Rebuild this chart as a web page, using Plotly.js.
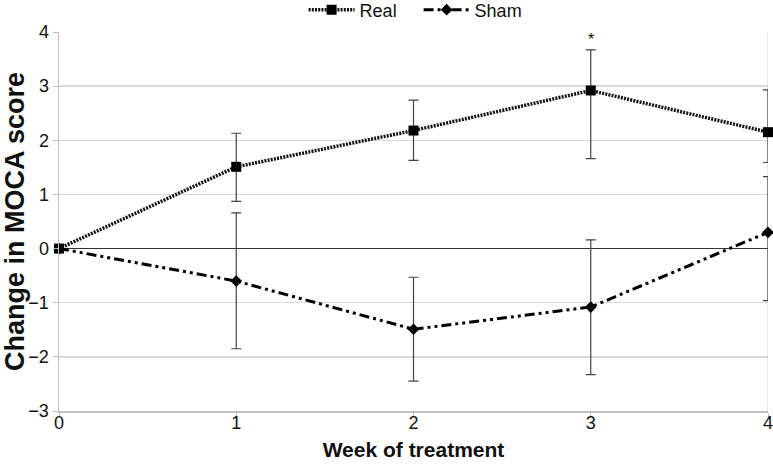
<!DOCTYPE html>
<html>
<head>
<meta charset="utf-8">
<script src="https://cdn.plot.ly/plotly-3.0.1.min.js"></script>
<style>html,body{margin:0;padding:0;background:#fff;}#chart{width:773px;height:465px;}</style>
</head>
<body>
<div id="chart"></div>
<script>
const weeks = [0, 1, 2, 3, 4];
const realMean = [0, 1.51, 2.18, 2.92, 2.15];
const realErrPlus = [0, 0.62, 0.56, 0.75, 0.78];
const realErrMinus = [0, 0.64, 0.55, 1.26, 0.56];
const shamMean = [0, -0.60, -1.49, -1.08, 0.30];
const shamErrPlus = [0, 1.26, 0.96, 1.24, 1.03];
const shamErrMinus = [0, 1.25, 0.96, 1.25, 1.26];
const yTicks = [-3, -2, -1, 0, 1, 2, 3, 4];
const xTicks = [0, 1, 2, 3, 4];

const font = "Liberation Sans, Arial, sans-serif";

const traces = [
  {
    x: weeks, y: realMean, name: 'Real', type: 'scatter', mode: 'lines+markers',
    line: {color: '#111', width: 3.5, dash: '2px,1.2px'},
    marker: {symbol: 'square', size: 10, color: '#000'},
    error_y: {type: 'data', symmetric: false, array: realErrPlus, arrayminus: realErrMinus,
              color: '#444', thickness: 1.2, width: 5},
    cliponaxis: false
  },
  {
    x: weeks, y: shamMean, name: 'Sham', type: 'scatter', mode: 'lines+markers',
    line: {color: '#000', width: 3, dash: '10px,4px,3px,4px,3px,4px'},
    marker: {symbol: 'diamond', size: 9, color: '#000'},
    error_y: {type: 'data', symmetric: false, array: shamErrPlus, arrayminus: shamErrMinus,
              color: '#444', thickness: 1.2, width: 5},
    cliponaxis: false
  }
];

const layout = {
  width: 773, height: 465,
  margin: {l: 59, r: 5, t: 32, b: 54, autoexpand: false},
  paper_bgcolor: '#fff', plot_bgcolor: '#fff',
  font: {family: font, size: 16, color: '#111'},
  showlegend: true,
  legend: {orientation: 'h', x: 0.345, xanchor: 'left', y: 1.058, yanchor: 'middle',
           entrywidth: 54, entrywidthmode: 'pixels', itemwidth: 46,
           font: {family: font, size: 18, color: '#111'}, tracegroupgap: 0},
  xaxis: {
    range: [0, 4], tickvals: xTicks, ticktext: xTicks.map(String),
    showgrid: false, zeroline: false, automargin: false,
    showline: true, linecolor: '#bfbfbf', linewidth: 1.5,
    ticks: 'outside', ticklen: 5, tickcolor: '#bfbfbf',
    ticklabelstandoff: -10, ticklabeloverflow: 'allow',
    tickfont: {family: font, size: 18, color: '#111'},
    title: {text: 'Week of treatment', font: {family: font, size: 21, color: '#111', weight: 'bold'}, standoff: 10}
  },
  yaxis: {
    range: [-3, 4], tickvals: yTicks, automargin: false,
    showgrid: true, gridcolor: '#d9d9d9', gridwidth: 1.3,
    zeroline: true, zerolinecolor: '#333', zerolinewidth: 1,
    showline: true, linecolor: '#bfbfbf', linewidth: 1.5,
    ticks: 'outside', ticklen: 5, tickcolor: '#bfbfbf',
    tickfont: {family: font, size: 18, color: '#111'},
    title: {text: 'Change in MOCA score', font: {family: font, size: 27, color: '#111', weight: 'bold'}, standoff: 6}
  },
  shapes: [
    {type: 'line', xref: 'x', yref: 'paper', x0: 4, x1: 4, y0: 0, y1: 1, line: {color: '#d9d9d9', width: 1.3}, layer: 'below'}
  ],
  annotations: [
    {x: weeks[3], y: realMean[3] + realErrPlus[3], xref: 'x', yref: 'y', text: '*', showarrow: false,
     yanchor: 'bottom', yshift: 0, font: {family: font, size: 16, color: '#111'}}
  ]
};

Plotly.newPlot('chart', traces, layout, {displayModeBar: false, staticPlot: true});
</script>
</body>
</html>
